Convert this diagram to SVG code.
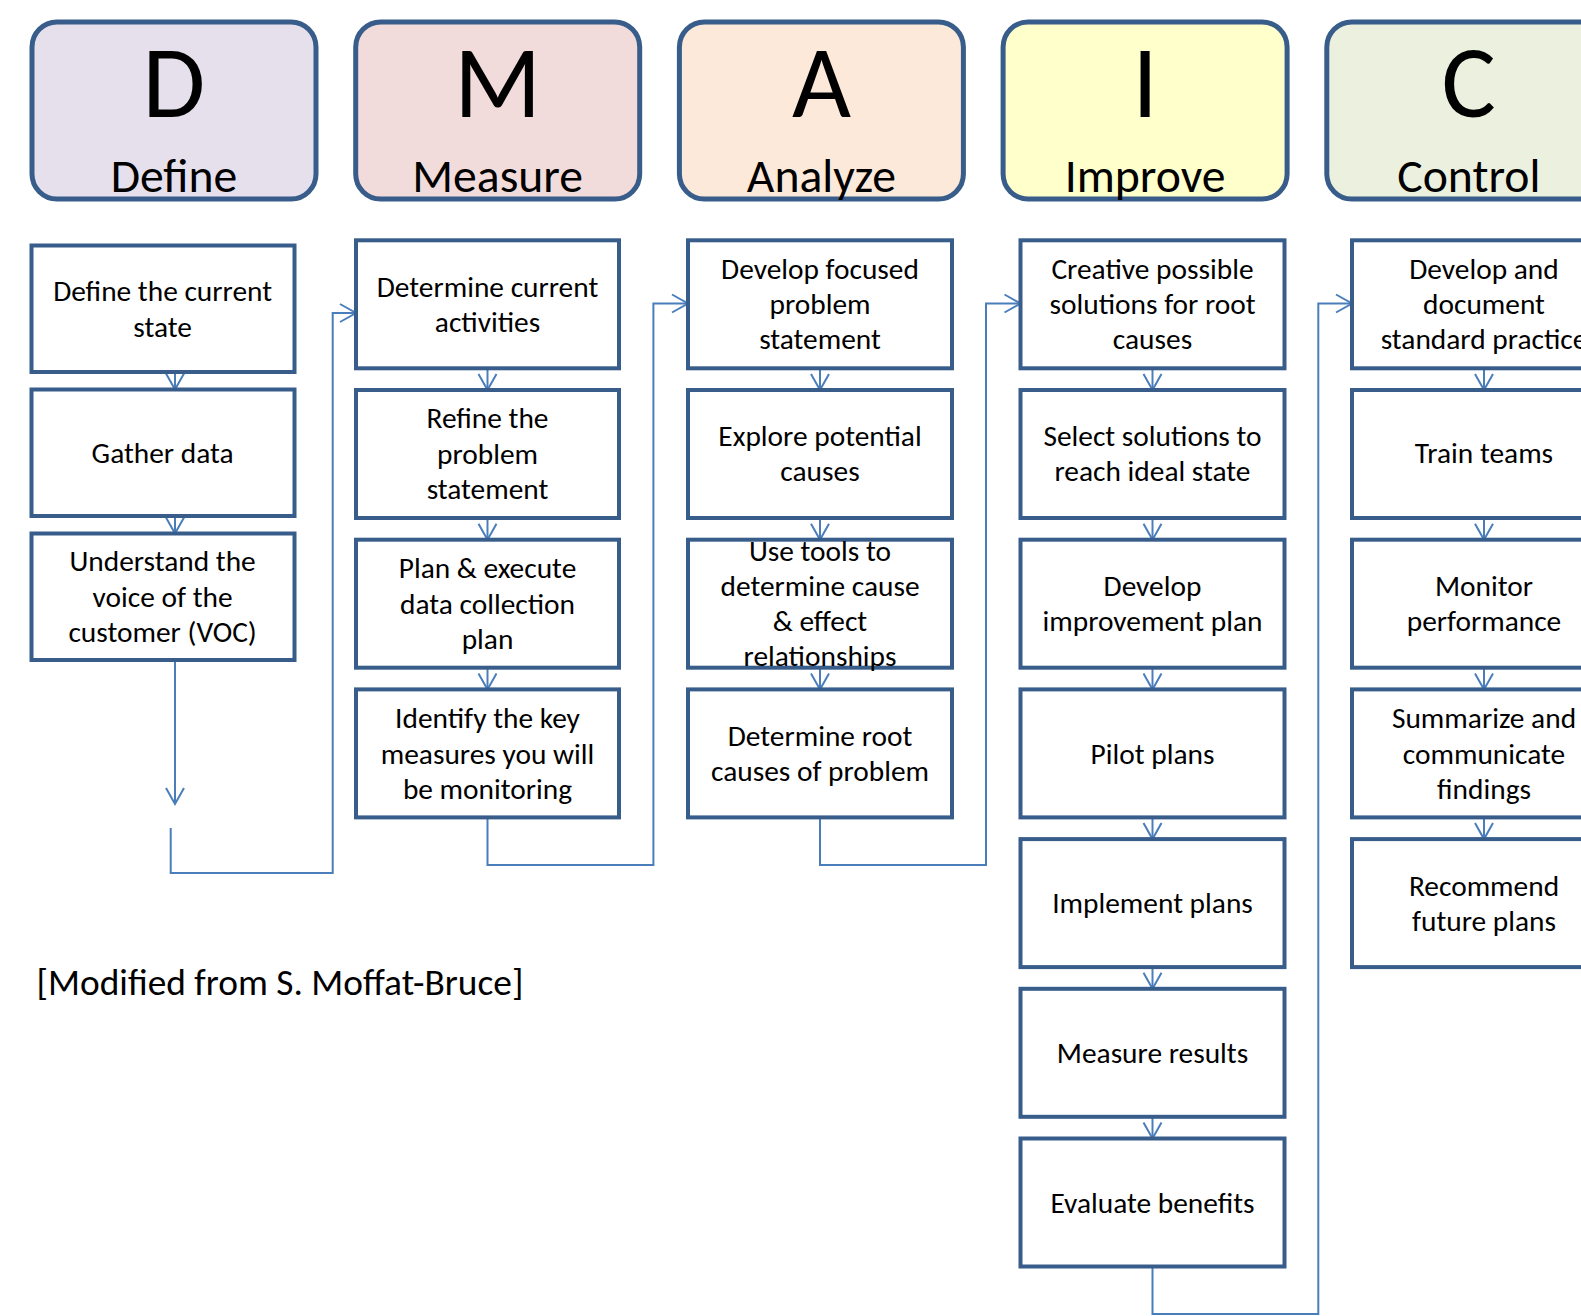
<svg xmlns="http://www.w3.org/2000/svg" width="1581" height="1316" viewBox="0 0 1581 1316">
<style>
.hdr{stroke:#385d8a;stroke-width:5}
.box{fill:#fff;stroke:#385d8a;stroke-width:4}
text{font-family:Carlito,Calibri,Lato,sans-serif;text-anchor:middle;fill:#000}
.t{font-size:29.4px}
.big{font-size:102px}
.word{font-size:47.7px}
.con{fill:none;stroke:#4a7ebb;stroke-width:2}
.note{font-size:37.4px;text-anchor:start}
</style>
<defs>
<marker id="ah" markerUnits="userSpaceOnUse" markerWidth="20" markerHeight="20" refX="17" refY="10" orient="auto" overflow="visible">
<path d="M1 1 L17 10 L1 19" fill="none" stroke="#4a7ebb" stroke-width="2"/>
</marker>
</defs>
<rect width="1581" height="1316" fill="#fff"/>

<g id="hdr-D"><rect class="hdr" x="32" y="22" width="284" height="177" rx="25" fill="#e6e0ec"/><text class="big" x="174" y="117">D</text><text class="word" x="174" y="191.5">Define</text></g>
<g id="hdr-M"><rect class="hdr" x="355.7" y="22" width="284" height="177" rx="25" fill="#f2dcdb"/><text class="big" x="497.7" y="117">M</text><text class="word" x="497.7" y="191.5">Measure</text></g>
<g id="hdr-A"><rect class="hdr" x="679.4" y="22" width="284" height="177" rx="25" fill="#fde9d9"/><text class="big" x="821.4" y="117">A</text><text class="word" x="821.4" y="191.5">Analyze</text></g>
<g id="hdr-I"><rect class="hdr" x="1003.1" y="22" width="284" height="177" rx="25" fill="#ffffcc"/><text class="big" x="1145.1" y="117">I</text><text class="word" x="1145.1" y="191.5">Improve</text></g>
<g id="hdr-C"><rect class="hdr" x="1326.8" y="22" width="284" height="177" rx="25" fill="#ebf1de"/><text class="big" x="1468.8" y="117">C</text><text class="word" x="1468.8" y="191.5">Control</text></g>

<g id="connectors">
<line class="con" x1="175" y1="372" x2="175" y2="389.5" marker-end="url(#ah)"/>
<line class="con" x1="175" y1="516" x2="175" y2="533.5" marker-end="url(#ah)"/>
<line class="con" x1="175" y1="660" x2="175" y2="804" marker-end="url(#ah)"/>
<path class="con" d="M170.7 828 V873 H332.7 V313 H356" marker-end="url(#ah)"/>

<line class="con" x1="487.5" y1="368.3" x2="487.5" y2="390" marker-end="url(#ah)"/>
<line class="con" x1="487.5" y1="518" x2="487.5" y2="539.7" marker-end="url(#ah)"/>
<line class="con" x1="487.5" y1="667.7" x2="487.5" y2="689.4" marker-end="url(#ah)"/>
<path class="con" d="M487.5 817.4 V865 H653.4 V303.5 H688" marker-end="url(#ah)"/>

<line class="con" x1="820" y1="368.3" x2="820" y2="390" marker-end="url(#ah)"/>
<line class="con" x1="820" y1="518" x2="820" y2="539.7" marker-end="url(#ah)"/>
<line class="con" x1="820" y1="667.7" x2="820" y2="689.4" marker-end="url(#ah)"/>
<path class="con" d="M820 817.4 V865 H986 V303.5 H1020.5" marker-end="url(#ah)"/>

<line class="con" x1="1152.5" y1="368.3" x2="1152.5" y2="390" marker-end="url(#ah)"/>
<line class="con" x1="1152.5" y1="518" x2="1152.5" y2="539.7" marker-end="url(#ah)"/>
<line class="con" x1="1152.5" y1="667.7" x2="1152.5" y2="689.4" marker-end="url(#ah)"/>
<line class="con" x1="1152.5" y1="817.4" x2="1152.5" y2="839.1" marker-end="url(#ah)"/>
<line class="con" x1="1152.5" y1="967.1" x2="1152.5" y2="988.8" marker-end="url(#ah)"/>
<line class="con" x1="1152.5" y1="1116.8" x2="1152.5" y2="1138.5" marker-end="url(#ah)"/>
<path class="con" d="M1152.5 1266.5 V1314 H1318.3 V303.5 H1352" marker-end="url(#ah)"/>

<line class="con" x1="1484" y1="368.3" x2="1484" y2="390" marker-end="url(#ah)"/>
<line class="con" x1="1484" y1="518" x2="1484" y2="539.7" marker-end="url(#ah)"/>
<line class="con" x1="1484" y1="667.7" x2="1484" y2="689.4" marker-end="url(#ah)"/>
<line class="con" x1="1484" y1="817.4" x2="1484" y2="839.1" marker-end="url(#ah)"/>
</g>

<g id="d1"><rect class="box" x="31.5" y="245.5" width="263" height="126.5"/><text class="t" x="162.6" y="301"><tspan x="162.6">Define the current</tspan><tspan x="162.6" y="336.5">state</tspan></text></g>
<g id="d2"><rect class="box" x="31.5" y="389.5" width="263" height="126.5"/><text class="t" x="162.6" y="463">Gather data</text></g>
<g id="d3"><rect class="box" x="31.5" y="533.5" width="263" height="126.5"/><text class="t" x="162.6" y="571"><tspan x="162.6">Understand the</tspan><tspan x="162.6" y="606.5">voice of the</tspan><tspan x="162.6" y="642">customer (VOC)</tspan></text></g>

<g id="m1"><rect class="box" x="356" y="240.3" width="263" height="128"/><text class="t" y="297"><tspan x="487.5">Determine current</tspan><tspan x="487.5" y="332">activities</tspan></text></g>
<g id="m2"><rect class="box" x="356" y="390" width="263" height="128"/><text class="t" y="428"><tspan x="487.5">Refine the</tspan><tspan x="487.5" y="463.5">problem</tspan><tspan x="487.5" y="499">statement</tspan></text></g>
<g id="m3"><rect class="box" x="356" y="539.7" width="263" height="128"/><text class="t" y="578"><tspan x="487.5">Plan &amp; execute</tspan><tspan x="487.5" y="613.5">data collection</tspan><tspan x="487.5" y="649">plan</tspan></text></g>
<g id="m4"><rect class="box" x="356" y="689.4" width="263" height="128"/><text class="t" y="728"><tspan x="487.5">Identify the key</tspan><tspan x="487.5" y="763.5">measures you will</tspan><tspan x="487.5" y="799">be monitoring</tspan></text></g>

<g id="a1"><rect class="box" x="688" y="240.3" width="264" height="128"/><text class="t" y="279"><tspan x="820">Develop focused</tspan><tspan x="820" y="314">problem</tspan><tspan x="820" y="349">statement</tspan></text></g>
<g id="a2"><rect class="box" x="688" y="390" width="264" height="128"/><text class="t" y="446"><tspan x="820">Explore potential</tspan><tspan x="820" y="481">causes</tspan></text></g>
<g id="a3"><rect class="box" x="688" y="539.7" width="264" height="128"/><text class="t" y="561"><tspan x="820">Use tools to</tspan><tspan x="820" y="596">determine cause</tspan><tspan x="820" y="630.5">&amp; effect</tspan><tspan x="820" y="665.5">relationships</tspan></text></g>
<g id="a4"><rect class="box" x="688" y="689.4" width="264" height="128"/><text class="t" y="746"><tspan x="820">Determine root</tspan><tspan x="820" y="780.5">causes of problem</tspan></text></g>

<g id="i1"><rect class="box" x="1020.5" y="240.3" width="264" height="128"/><text class="t" y="279"><tspan x="1152.5">Creative possible</tspan><tspan x="1152.5" y="314">solutions for root</tspan><tspan x="1152.5" y="349">causes</tspan></text></g>
<g id="i2"><rect class="box" x="1020.5" y="390" width="264" height="128"/><text class="t" y="446"><tspan x="1152.5">Select solutions to</tspan><tspan x="1152.5" y="481">reach ideal state</tspan></text></g>
<g id="i3"><rect class="box" x="1020.5" y="539.7" width="264" height="128"/><text class="t" y="596"><tspan x="1152.5">Develop</tspan><tspan x="1152.5" y="631">improvement plan</tspan></text></g>
<g id="i4"><rect class="box" x="1020.5" y="689.4" width="264" height="128"/><text class="t" x="1152.5" y="763.5">Pilot plans</text></g>
<g id="i5"><rect class="box" x="1020.5" y="839.1" width="264" height="128"/><text class="t" x="1152.5" y="912.5">Implement plans</text></g>
<g id="i6"><rect class="box" x="1020.5" y="988.8" width="264" height="128"/><text class="t" x="1152.5" y="1063">Measure results</text></g>
<g id="i7"><rect class="box" x="1020.5" y="1138.5" width="264" height="128"/><text class="t" x="1152.5" y="1213">Evaluate benefits</text></g>

<g id="c1"><rect class="box" x="1352" y="240.3" width="264" height="128"/><text class="t" y="279"><tspan x="1484">Develop and</tspan><tspan x="1484" y="314">document</tspan><tspan x="1484" y="349">standard practice</tspan></text></g>
<g id="c2"><rect class="box" x="1352" y="390" width="264" height="128"/><text class="t" x="1484" y="463">Train teams</text></g>
<g id="c3"><rect class="box" x="1352" y="539.7" width="264" height="128"/><text class="t" y="596"><tspan x="1484">Monitor</tspan><tspan x="1484" y="631">performance</tspan></text></g>
<g id="c4"><rect class="box" x="1352" y="689.4" width="264" height="128"/><text class="t" y="728"><tspan x="1484">Summarize and</tspan><tspan x="1484" y="763.5">communicate</tspan><tspan x="1484" y="799">findings</tspan></text></g>
<g id="c5"><rect class="box" x="1352" y="839.1" width="264" height="128"/><text class="t" y="895.5"><tspan x="1484">Recommend</tspan><tspan x="1484" y="931">future plans</tspan></text></g>

<g id="note"><text class="note" x="36.5" y="995">[Modified from S. Moffat-Bruce]</text></g>
</svg>
